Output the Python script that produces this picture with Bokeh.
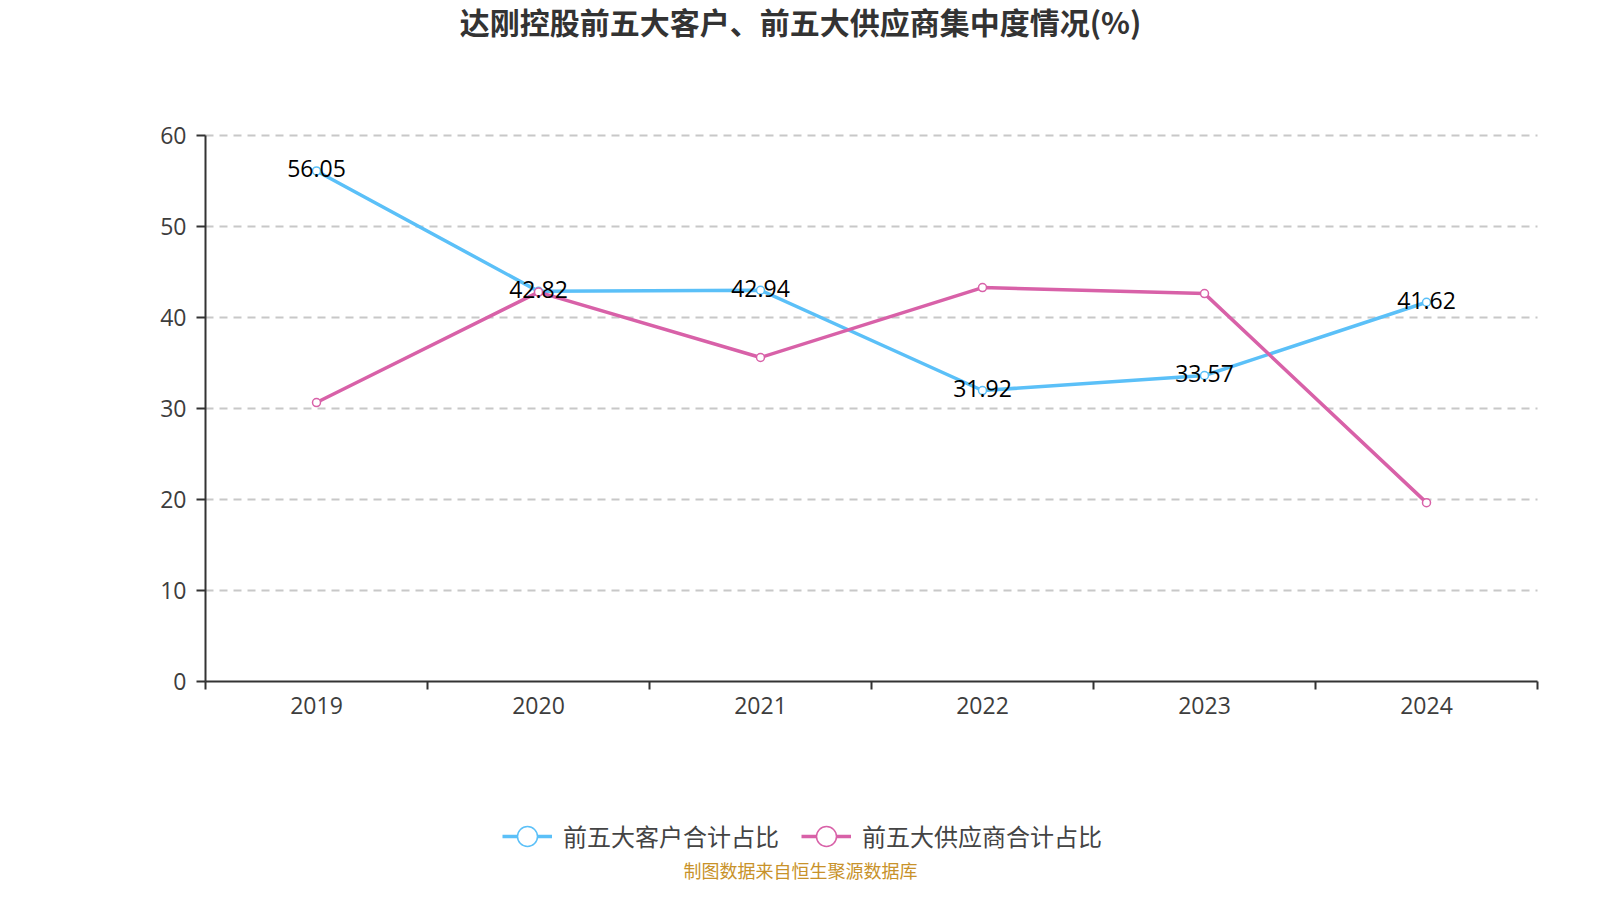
from bokeh.plotting import figure
from bokeh.models import (ColumnDataSource, Range1d, FixedTicker, Legend, LegendItem, Label)
from bokeh.core.properties import value
from bokeh.embed import file_html
from bokeh.resources import INLINE

# ---- data ----
years = ["2019", "2020", "2021", "2022", "2023", "2024"]
customer_share = [56.05, 42.82, 42.94, 31.92, 33.57, 41.62]
supplier_share = [30.6, 42.74, 35.55, 43.23, 42.57, 19.6]
y_tick_values = [0, 10, 20, 30, 40, 50, 60]
series_names = ["前五大客户合计占比", "前五大供应商合计占比"]
title_text = "达刚控股前五大客户、前五大供应商集中度情况(%)"
source_text = "制图数据来自恒生聚源数据库"

# ---- styles / layout (pixels) ----
BLUE = "#5bc0f8"
PINK = "#d861a8"
AXIS = "#333333"
NUM_FONT = "Open Sans"
CJK_FONT = "Noto Sans CJK SC"
W, H = 1584, 884
PLOT_L, PLOT_R = 205, 1537      # pixel x of first / last category boundary
PLOT_T, PLOT_B = 134.5, 680.5   # pixel y of y max / y = 0

n = len(years)
ymax = y_tick_values[-1]
xs = (PLOT_R - PLOT_L) / n
ys = (PLOT_B - PLOT_T) / ymax
x_range = Range1d(-PLOT_L / xs, n + (W - PLOT_R) / xs)
y_range = Range1d(-(H - PLOT_B) / ys, ymax + PLOT_T / ys)

xpos = [i + 0.5 for i in range(n)]
src = ColumnDataSource(dict(
    x=xpos,
    cust=customer_share,
    supp=supplier_share,
    lab=[f"{v:.2f}" for v in customer_share],
))

p = figure(width=W, height=H, output_backend="svg", toolbar_location=None,
           x_range=x_range, y_range=y_range, min_border=0)
p.outline_line_color = None
p.background_fill_color = "white"
p.border_fill_color = "white"

# axes fixed inside the canvas-wide frame
xa = p.xaxis[0]
xa.fixed_location = 0
xa.bounds = (0, n)
xa.ticker = FixedTicker(ticks=xpos, minor_ticks=list(range(n + 1)))
xa.major_label_overrides = {x: y for x, y in zip(xpos, years)}
xa.major_tick_out = 0
xa.major_tick_in = 0
xa.minor_tick_out = 8
xa.minor_tick_in = 0
xa.minor_tick_line_color = AXIS
xa.minor_tick_line_width = 2
xa.axis_line_color = AXIS
xa.axis_line_width = 2
xa.major_label_text_font = NUM_FONT
xa.major_label_text_font_size = "23px"
xa.major_label_text_color = "#3d3d3d"
xa.major_label_standoff = 8

ya = p.yaxis[0]
ya.fixed_location = 0
ya.bounds = (0, ymax)
ya.ticker = FixedTicker(ticks=y_tick_values)
ya.major_tick_out = 9
ya.major_tick_in = 0
ya.minor_tick_out = 0
ya.minor_tick_in = 0
ya.major_tick_line_color = AXIS
ya.major_tick_line_width = 2
ya.axis_line_color = AXIS
ya.axis_line_width = 2
ya.major_label_text_font = NUM_FONT
ya.major_label_text_font_size = "23px"
ya.major_label_text_color = "#3d3d3d"
ya.major_label_standoff = 10

p.xgrid.visible = False
grid = p.ygrid[0]
if "cross_bounds" in grid.properties():
    grid.ticker = FixedTicker(ticks=y_tick_values[1:])
    grid.cross_bounds = (0, n)
    grid.grid_line_color = "#c8c8c8"
    grid.grid_line_width = 1.8
    grid.grid_line_dash = "8 6"
else:
    grid.visible = False
    p.segment(x0=[0] * (len(y_tick_values) - 1), x1=[n] * (len(y_tick_values) - 1),
              y0=y_tick_values[1:], y1=y_tick_values[1:],
              line_color="#c8c8c8", line_width=1.8, line_dash="8 6", level="underlay")

# series
lb = p.line("x", "cust", source=src, line_color=BLUE, line_width=3.5)
sb = p.scatter("x", "cust", source=src, size=8, marker="circle",
               fill_color="white", line_color=BLUE, line_width=1.5)
lp = p.line("x", "supp", source=src, line_color=PINK, line_width=3.5)
sp = p.scatter("x", "supp", source=src, size=8, marker="circle",
               fill_color="white", line_color=PINK, line_width=1.5)

p.text("x", "cust", text="lab", source=src, text_font=value(NUM_FONT),
       text_font_size="23px", text_color="#000000", text_align="center",
       text_baseline="middle", y_offset=-2)

# title / footer (screen units from the frame's bottom-left)
p.add_layout(Label(x=800, y=H - 20, x_units="screen", y_units="screen",
                   text=title_text, text_font=CJK_FONT, text_font_size="30px",
                   text_font_style="bold", text_color="#333333",
                   text_align="center", text_baseline="middle"))
p.add_layout(Label(x=800, y=H - 869, x_units="screen", y_units="screen",
                   text=source_text, text_font=CJK_FONT, text_font_size="18px",
                   text_color="#c8922a", text_align="center",
                   text_baseline="middle"))

legend = Legend(items=[LegendItem(label=series_names[0], renderers=[lb, sb]),
                       LegendItem(label=series_names[1], renderers=[lp, sp])],
                orientation="horizontal", location=(502, H - 860.5),
                glyph_width=50, glyph_height=50, label_standoff=11, spacing=22,
                padding=0, margin=0, border_line_color=None,
                background_fill_alpha=0, label_text_font=CJK_FONT,
                label_text_font_size="24px", label_text_color="#444444")
p.add_layout(legend, "center")

open("out.html", "w").write(file_html(p, INLINE))
